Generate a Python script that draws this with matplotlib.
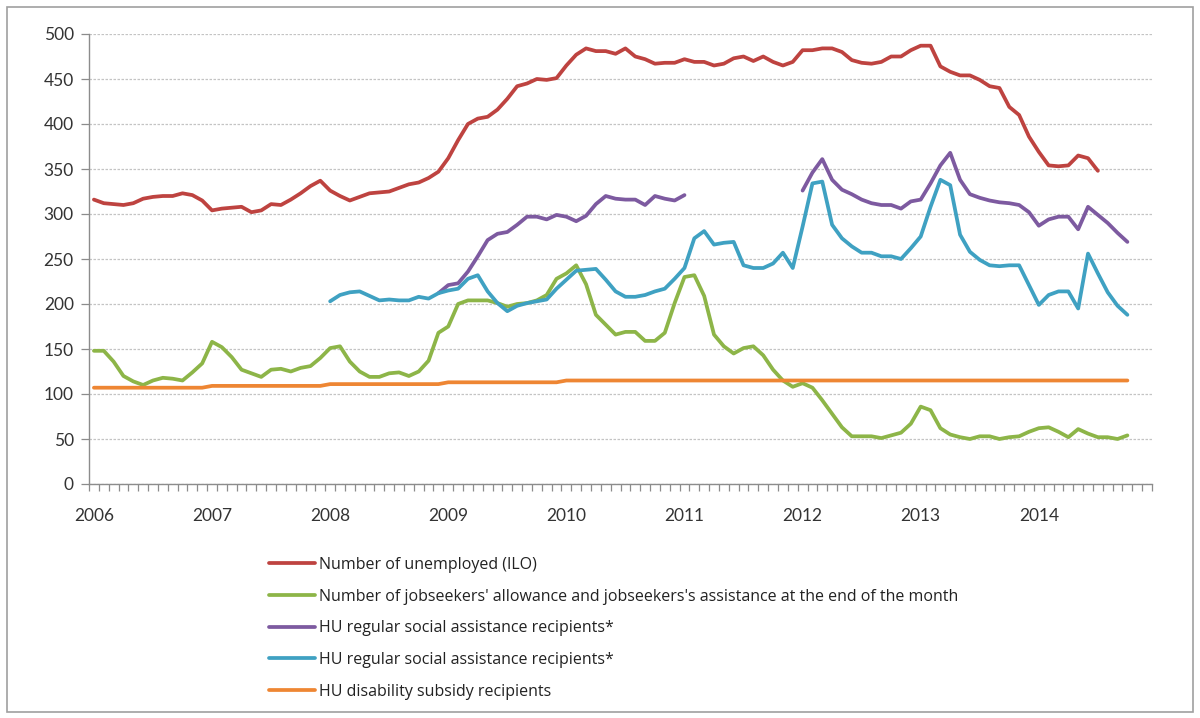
import numpy as np
import pandas as pd
import matplotlib
matplotlib.use("Agg")
import matplotlib.pyplot as plt
from matplotlib.patches import Rectangle

plt.rcParams['font.family'] = ['Lato', 'DejaVu Sans']

# monthly axis Jan 2006 - Dec 2014
months = pd.date_range('2006-01-01', '2014-12-01', freq='MS')
year_labels = ['2006', '2007', '2008', '2009', '2010', '2011', '2012', '2013', '2014']

labels = [
    'Number of unemployed (ILO)',
    "Number of jobseekers' allowance and jobseekers's assistance at the end of the month",
    'HU regular social assistance recipients*',
    'HU regular social assistance recipients*',
    'HU disability subsidy recipients',
]

# thousand persons
unemployed_start = '2006-01'
unemployed = [316, 312, 311, 310, 312, 317, 319, 320, 320, 323, 321, 315,
              304, 306, 307, 308, 302, 304, 311, 310, 316, 323, 331, 337,
              326, 320, 315, 319, 323, 324, 325, 329, 333, 335, 340, 347,
              362, 382, 400, 406, 408, 416, 428, 442, 445, 450, 449, 451,
              465, 477, 484, 481, 481, 478, 484, 475, 472, 467, 468, 468,
              472, 469, 469, 465, 467, 473, 475, 470, 475, 469, 465, 469,
              482, 482, 484, 484, 480, 471, 468, 467, 469, 475, 475, 482,
              487, 487, 464, 458, 454, 454, 449, 442, 440, 419, 410, 386,
              369, 354, 353, 354, 365, 362, 348]

jobseekers_start = '2006-01'
jobseekers = [148, 148, 136, 120, 114, 110, 115, 118, 117, 115, 124, 134,
              158, 152, 141, 127, 123, 119, 127, 128, 125, 129, 131, 140,
              151, 153, 136, 125, 119, 119, 123, 124, 120, 125, 137, 168,
              175, 200, 204, 204, 204, 201, 197, 200, 201, 204, 210, 228,
              234, 243, 222, 188, 177, 166, 169, 169, 159, 159, 168, 201,
              230, 232, 209, 166, 153, 145, 151, 153, 143, 127, 115, 108,
              112, 107, 93, 78, 63, 53, 53, 53, 51, 54, 57, 67,
              86, 82, 62, 55, 52, 50, 53, 53, 50, 52, 53, 58,
              62, 63, 58, 52, 61, 56, 52, 52, 50, 54]

social_a_start = '2008-12'
social_a = [212, 221, 223, 236, 253, 271, 278, 280, 288, 297, 297, 294,
            299, 297, 292, 298, 311, 320, 317, 316, 316, 310, 320, 317,
            315, 321,
            np.nan, np.nan, np.nan, np.nan, np.nan, np.nan, np.nan, np.nan,
            np.nan, np.nan, np.nan,
            326, 346, 361, 338, 327, 322, 316, 312, 310, 310, 306, 314,
            316, 334, 354, 368, 338, 322, 318, 315, 313, 312, 310, 302,
            287, 294, 297, 297, 283, 308, 299, 290, 279, 269]

social_b_start = '2008-01'
social_b = [203, 210, 213, 214, 209, 204, 205, 204, 204, 208, 206, 212,
            215, 217, 228, 232, 214, 201, 192, 198, 201, 203, 205, 217,
            227, 237, 238, 239, 227, 214, 208, 208, 210, 214, 217, 228,
            240, 273, 281, 266, 268, 269, 243, 240, 240, 245, 257, 240,
            286, 334, 336, 288, 273, 264, 257, 257, 253, 253, 250, 262,
            275, 308, 338, 332, 277, 258, 249, 243, 242, 243, 243, 221,
            199, 210, 214, 214, 195, 256, 234, 213, 198, 188]

disability_start = '2006-01'
disability = [107] * 12 + [109] * 12 + [111] * 12 + [113] * 12 + [115] * 58

series = [
    (unemployed_start, unemployed, '#BE4340'),
    (jobseekers_start, jobseekers, '#8DB548'),
    (social_a_start, social_a, '#7D5AA0'),
    (social_b_start, social_b, '#3FA1C2'),
    (disability_start, disability, '#EE8633'),
]

fig = plt.figure(figsize=(12, 7.18), dpi=100)
ax = fig.add_axes([89 / 1200, 1 - 484 / 718, (1152 - 89) / 1200, 450 / 718])

handles = []
for (start, values, color), label in zip(series, labels):
    i0 = months.get_loc(pd.Timestamp(start))
    x = np.arange(i0, i0 + len(values))
    h, = ax.plot(x, values, color=color, lw=2.7, label=label,
                 solid_joinstyle='round', solid_capstyle='round', zorder=3)
    handles.append(h)

ax.set_xlim(-0.5, len(months) - 0.5)
ax.set_ylim(0, 500)
ax.set_yticks(np.arange(0, 501, 50))
ax.set_xticks(np.arange(0, len(months), 12))
ax.set_xticklabels(year_labels)
ax.set_xticks(np.arange(-0.5, len(months), 1), minor=True)

ax.tick_params(axis='x', which='major', length=0, pad=17, labelsize=12.5, colors='#333333')
ax.tick_params(axis='x', which='minor', length=5, width=0.9, color='#8c8c8c', direction='out')
ax.tick_params(axis='y', which='major', length=6, width=0.9, color='#8c8c8c', pad=5,
               labelsize=12.5, labelcolor='#333333')

ax.grid(axis='y', color='#c4c4c4', linestyle=(0, (2, 1.2)), lw=0.9, zorder=0)
for side in ['top', 'right']:
    ax.spines[side].set_visible(False)
for side in ['left', 'bottom']:
    ax.spines[side].set_color('#8c8c8c')
    ax.spines[side].set_linewidth(1.0)

leg = fig.legend(handles, labels, loc='upper left', bbox_to_anchor=(269 / 1200, 1 - 557 / 718),
                 frameon=False, prop={'family': ['Open Sans', 'DejaVu Sans'], 'size': 11.5},
                 handlelength=2.9, handletextpad=0.25,
                 labelspacing=0.98, borderpad=0, borderaxespad=0)
for t in leg.get_texts():
    t.set_color('#222222')

fig.patches.append(Rectangle((7 / 1200, 6 / 718), 1186 / 1200, 705 / 718,
                             transform=fig.transFigure, fill=False,
                             edgecolor='#a0a0a0', lw=1.2))

fig.savefig('out.png', dpi=100)
